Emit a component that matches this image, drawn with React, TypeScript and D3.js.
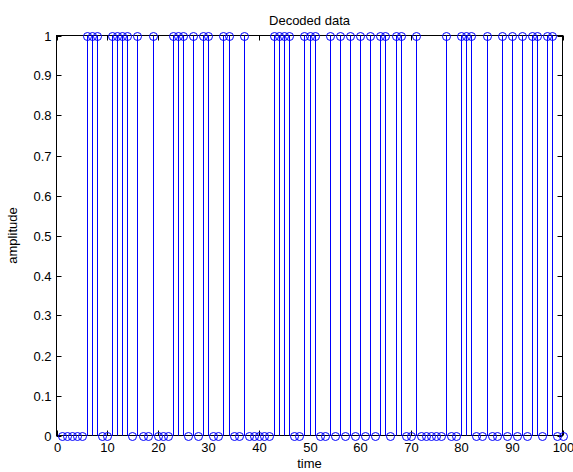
import React, { useEffect, useRef } from "react";
import * as d3 from "d3";

// decoded bits, sample 1..100
const amplitude = [
  0, 0, 0, 0, 0, 1, 1, 1, 0, 0,
  1, 1, 1, 1, 0, 1, 0, 0, 1, 0,
  0, 0, 1, 1, 1, 0, 1, 0, 1, 1,
  0, 0, 1, 1, 0, 0, 1, 0, 0, 0,
  0, 0, 1, 1, 1, 1, 0, 0, 1, 1,
  1, 0, 0, 1, 0, 1, 0, 1, 0, 1,
  0, 1, 0, 1, 1, 0, 1, 1, 0, 0,
  1, 0, 0, 0, 0, 0, 1, 0, 0, 1,
  1, 1, 0, 0, 1, 0, 0, 1, 0, 1,
  0, 1, 0, 1, 1, 0, 1, 1, 0, 0,
];
const xTicks = [0, 10, 20, 30, 40, 50, 60, 70, 80, 90, 100];
const yTicks = [0, 0.1, 0.2, 0.3, 0.4, 0.5, 0.6, 0.7, 0.8, 0.9, 1];

const W = 573;
const H = 472;
const FONT = "'Liberation Sans', Arial, sans-serif";

export default function App() {
  const ref = useRef<SVGSVGElement>(null);

  useEffect(() => {
    const svg = d3.select(ref.current);
    svg.selectAll("*").remove();

    const left = 56.5, right = 562.5, top = 35.5, bottom = 435.5;
    const x = d3.scaleLinear().domain([0, 100]).range([left, right]);
    const y = d3.scaleLinear().domain([0, 1]).range([bottom, top]);
    const tick = 5;

    svg.append("rect").attr("width", W).attr("height", H).attr("fill", "#fff");

    // axes box
    const g = svg.append("g");
    g.append("rect")
      .attr("x", left).attr("y", top)
      .attr("width", right - left).attr("height", bottom - top)
      .attr("fill", "none").attr("stroke", "#000");

    // ticks inward on all four sides
    xTicks.forEach(t => {
      const px = Math.round(x(t)) + 0.5;
      g.append("line").attr("x1", px).attr("x2", px).attr("y1", bottom).attr("y2", bottom - tick).attr("stroke", "#000");
      g.append("line").attr("x1", px).attr("x2", px).attr("y1", top).attr("y2", top + tick).attr("stroke", "#000");
      g.append("text")
        .attr("x", px).attr("y", bottom + 16)
        .attr("text-anchor", "middle")
        .attr("font-family", FONT).attr("font-size", 13)
        .text(t);
    });
    yTicks.forEach(t => {
      const py = Math.round(y(t)) + 0.5;
      g.append("line").attr("x1", left).attr("x2", left + tick).attr("y1", py).attr("y2", py).attr("stroke", "#000");
      g.append("line").attr("x1", right).attr("x2", right - tick).attr("y1", py).attr("y2", py).attr("stroke", "#000");
      g.append("text")
        .attr("x", left - 5).attr("y", py + 4.5)
        .attr("text-anchor", "end")
        .attr("font-family", FONT).attr("font-size", 13)
        .text(String(t));
    });

    // stems
    const pts = amplitude.map((v, i) => ({ t: i + 1, v }));
    svg.append("g").selectAll("line")
      .data(pts.filter(d => d.v !== 0))
      .join("line")
      .attr("x1", d => Math.round(x(d.t)) + 0.5)
      .attr("x2", d => Math.round(x(d.t)) + 0.5)
      .attr("y1", y(0))
      .attr("y2", d => y(d.v))
      .attr("stroke", "#0000ff");

    svg.append("g").selectAll("circle")
      .data(pts)
      .join("circle")
      .attr("cx", d => Math.round(x(d.t)) + 0.5)
      .attr("cy", d => Math.round(y(d.v)) + 0.5)
      .attr("r", 4)
      .attr("fill", "none")
      .attr("stroke", "#0000ff");

    // labels
    svg.append("text")
      .attr("x", (left + right) / 2).attr("y", top - 11)
      .attr("text-anchor", "middle")
      .attr("font-family", FONT).attr("font-size", 13)
      .text("Decoded data");
    svg.append("text")
      .attr("x", (left + right) / 2).attr("y", bottom + 32)
      .attr("text-anchor", "middle")
      .attr("font-family", FONT).attr("font-size", 13)
      .text("time");
    svg.append("text")
      .attr("transform", `translate(17,${(top + bottom) / 2}) rotate(-90)`)
      .attr("text-anchor", "middle")
      .attr("font-family", FONT).attr("font-size", 13)
      .text("amplitude");
  }, []);

  return (
    <svg
      ref={ref}
      width={W}
      height={H}
      style={{ position: "absolute", left: 0, top: 0, display: "block" }}
    />
  );
}
